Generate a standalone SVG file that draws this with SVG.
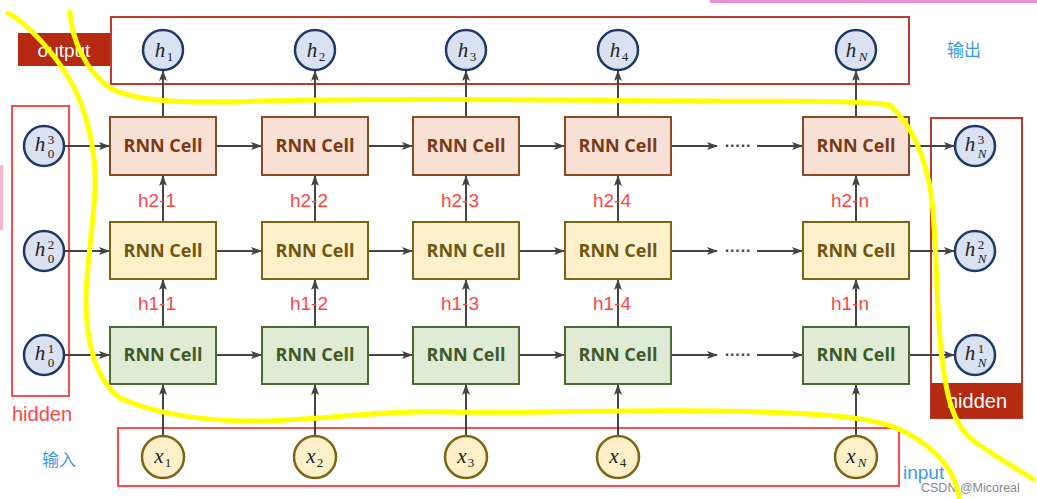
<svg xmlns="http://www.w3.org/2000/svg" width="1037" height="499" viewBox="0 0 1037 499">
<style>
.cellT{font-family:"Open Sans","Liberation Sans",Arial,sans-serif;font-weight:bold;font-size:18px;text-anchor:middle}
.c3{fill:#f8e0d4;stroke:#8a4a22;stroke-width:2}
.c2{fill:#fdf0cb;stroke:#7d6412;stroke-width:2}
.c1{fill:#e0ebd6;stroke:#4d6a33;stroke-width:2}
.t3{fill:#7a3a14}
.t2{fill:#6e5710}
.t1{fill:#3e5a28}
.hc{fill:#d9e1f2;stroke:#1f3864;stroke-width:2.5}
.xc{fill:#fdf0c8;stroke:#7d6412;stroke-width:2.5}
.mt{font-family:"Liberation Serif","DejaVu Serif",serif;font-style:italic;font-size:21px;fill:#222;text-anchor:middle}
.sc{font-family:"Liberation Serif","DejaVu Serif",serif;font-size:13px;fill:#222;text-anchor:middle}
.lbl{font-family:"Liberation Sans",Arial,sans-serif;font-size:19px;fill:#ff4646;text-anchor:middle}
.blue{font-family:"Liberation Sans","Noto Sans CJK SC",sans-serif;font-size:17px;fill:#3a9ae6}
.conn line{stroke:#444;stroke-width:2;marker-end:url(#ah)}
.yl{fill:none;stroke:#ffff00;stroke-width:5;stroke-linecap:round;stroke-linejoin:round}
</style>
<defs>
<marker id="ah" markerWidth="11" markerHeight="10" refX="10" refY="5" orient="auto" markerUnits="userSpaceOnUse">
<path d="M0,1 L11,5 L0,9 L2.5,5 z" fill="#444"/>
</marker>
</defs>
<rect width="1037" height="499" fill="#ffffff"/>
<rect x="710" y="0" width="327" height="3" fill="#e98fd6"/>
<rect x="0" y="165" width="3" height="65" fill="#f7b3d3"/>

<!-- frames -->
<g id="output-frame">
<rect x="111" y="17" width="798" height="67" fill="none" stroke="#c23b2a" stroke-width="2"/>
<rect x="18" y="33" width="92" height="33" fill="#b52a10"/>
<text x="64" y="57" font-family="Liberation Sans,Arial,sans-serif" font-size="19" fill="#fff" text-anchor="middle">output</text>
</g>
<g id="hidden-left">
<rect x="12" y="106" width="57" height="290" fill="none" stroke="#ff4b4b" stroke-width="2"/>
<text x="42" y="421" font-family="Liberation Sans,Arial,sans-serif" font-size="20" fill="#ff4646" text-anchor="middle">hidden</text>
</g>
<g id="hidden-right">
<rect x="931" y="118" width="91" height="300" fill="none" stroke="#c23b2a" stroke-width="2"/>
<rect x="931" y="383" width="91" height="35" fill="#b52a10"/>
<text x="977" y="408" font-family="Liberation Sans,Arial,sans-serif" font-size="20" fill="#fff" text-anchor="middle">hidden</text>
</g>
<g id="input-frame">
<rect x="118" y="428" width="781" height="58" fill="none" stroke="#ff4b4b" stroke-width="2"/>
</g>
<text class="blue" x="947" y="56">输出</text>
<text class="blue" x="42" y="466">输入</text>
<text x="903" y="479" font-family="Liberation Sans,Arial,sans-serif" font-size="19" fill="#3a9ae6">input</text>
<text x="921" y="492" font-family="Liberation Sans,Arial,sans-serif" font-size="12.5" fill="#888">CSDN @Micoreal</text>

<!-- connectors -->
<g id="connectors" class="conn">
<line x1="163" y1="436" x2="163" y2="385"/><line x1="315" y1="436" x2="315" y2="385"/><line x1="466" y1="436" x2="466" y2="385"/><line x1="618" y1="436" x2="618" y2="385"/><line x1="856" y1="436" x2="856" y2="385"/>
<line x1="163" y1="327" x2="163" y2="280"/><line x1="315" y1="327" x2="315" y2="280"/><line x1="466" y1="327" x2="466" y2="280"/><line x1="618" y1="327" x2="618" y2="280"/><line x1="856" y1="327" x2="856" y2="280"/>
<line x1="163" y1="222" x2="163" y2="176"/><line x1="315" y1="222" x2="315" y2="176"/><line x1="466" y1="222" x2="466" y2="176"/><line x1="618" y1="222" x2="618" y2="176"/><line x1="856" y1="222" x2="856" y2="176"/>
<line x1="163" y1="117" x2="163" y2="71"/><line x1="315" y1="117" x2="315" y2="71"/><line x1="466" y1="117" x2="466" y2="71"/><line x1="618" y1="117" x2="618" y2="71"/><line x1="856" y1="117" x2="856" y2="71"/>

<line x1="64" y1="146" x2="109" y2="146"/><line x1="216" y1="146" x2="261" y2="146"/><line x1="368" y1="146" x2="412" y2="146"/><line x1="519" y1="146" x2="564" y2="146"/><line x1="671" y1="146" x2="717" y2="146"/><line x1="757" y1="146" x2="802" y2="146"/><line x1="909" y1="146" x2="954" y2="146"/>
<line x1="64" y1="251" x2="109" y2="251"/><line x1="216" y1="251" x2="261" y2="251"/><line x1="368" y1="251" x2="412" y2="251"/><line x1="519" y1="251" x2="564" y2="251"/><line x1="671" y1="251" x2="717" y2="251"/><line x1="757" y1="251" x2="802" y2="251"/><line x1="909" y1="251" x2="954" y2="251"/>
<line x1="64" y1="355" x2="109" y2="355"/><line x1="216" y1="355" x2="261" y2="355"/><line x1="368" y1="355" x2="412" y2="355"/><line x1="519" y1="355" x2="564" y2="355"/><line x1="671" y1="355" x2="717" y2="355"/><line x1="757" y1="355" x2="802" y2="355"/><line x1="909" y1="355" x2="954" y2="355"/>
</g>
<g id="dots" font-family="Liberation Sans,Arial,sans-serif" font-size="16" font-weight="bold" fill="#444" text-anchor="middle">
<text x="738" y="151">·····</text><text x="738" y="256">·····</text><text x="738" y="360">·····</text>
</g>

<!-- labels -->
<g id="labels" class="lbl">
<text x="157" y="207">h2-1</text><text x="309" y="207">h2-2</text><text x="460" y="207">h2-3</text><text x="612" y="207">h2-4</text><text x="850" y="207">h2-n</text>
<text x="157" y="310">h1-1</text><text x="309" y="310">h1-2</text><text x="460" y="310">h1-3</text><text x="612" y="310">h1-4</text><text x="850" y="310">h1-n</text>
</g>

<!-- cells -->
<g id="cell-3-1"><rect class="c3" x="110" y="117" width="106" height="58"/><text class="cellT t3" x="163" y="152">RNN Cell</text></g>
<g id="cell-3-2"><rect class="c3" x="262" y="117" width="106" height="58"/><text class="cellT t3" x="315" y="152">RNN Cell</text></g>
<g id="cell-3-3"><rect class="c3" x="413" y="117" width="106" height="58"/><text class="cellT t3" x="466" y="152">RNN Cell</text></g>
<g id="cell-3-4"><rect class="c3" x="565" y="117" width="106" height="58"/><text class="cellT t3" x="618" y="152">RNN Cell</text></g>
<g id="cell-3-n"><rect class="c3" x="803" y="117" width="106" height="58"/><text class="cellT t3" x="856" y="152">RNN Cell</text></g>

<g id="cell-2-1"><rect class="c2" x="110" y="222" width="106" height="57"/><text class="cellT t2" x="163" y="257">RNN Cell</text></g>
<g id="cell-2-2"><rect class="c2" x="262" y="222" width="106" height="57"/><text class="cellT t2" x="315" y="257">RNN Cell</text></g>
<g id="cell-2-3"><rect class="c2" x="413" y="222" width="106" height="57"/><text class="cellT t2" x="466" y="257">RNN Cell</text></g>
<g id="cell-2-4"><rect class="c2" x="565" y="222" width="106" height="57"/><text class="cellT t2" x="618" y="257">RNN Cell</text></g>
<g id="cell-2-n"><rect class="c2" x="803" y="222" width="106" height="57"/><text class="cellT t2" x="856" y="257">RNN Cell</text></g>

<g id="cell-1-1"><rect class="c1" x="110" y="327" width="106" height="57"/><text class="cellT t1" x="163" y="361">RNN Cell</text></g>
<g id="cell-1-2"><rect class="c1" x="262" y="327" width="106" height="57"/><text class="cellT t1" x="315" y="361">RNN Cell</text></g>
<g id="cell-1-3"><rect class="c1" x="413" y="327" width="106" height="57"/><text class="cellT t1" x="466" y="361">RNN Cell</text></g>
<g id="cell-1-4"><rect class="c1" x="565" y="327" width="106" height="57"/><text class="cellT t1" x="618" y="361">RNN Cell</text></g>
<g id="cell-1-n"><rect class="c1" x="803" y="327" width="106" height="57"/><text class="cellT t1" x="856" y="361">RNN Cell</text></g>

<!-- output circles -->
<g id="h1"><circle class="hc" cx="163" cy="50" r="20"/><text class="mt" x="160" y="57">h</text><text class="sc" x="170" y="61" font-size="14">1</text></g>
<g id="h2"><circle class="hc" cx="315" cy="50" r="20"/><text class="mt" x="312" y="57">h</text><text class="sc" x="322" y="61" font-size="14">2</text></g>
<g id="h3"><circle class="hc" cx="466" cy="50" r="20"/><text class="mt" x="463" y="57">h</text><text class="sc" x="473" y="61" font-size="14">3</text></g>
<g id="h4"><circle class="hc" cx="618" cy="50" r="20"/><text class="mt" x="615" y="57">h</text><text class="sc" x="625" y="61" font-size="14">4</text></g>
<g id="hN"><circle class="hc" cx="856" cy="50" r="20"/><text class="mt" x="851" y="57">h</text><text class="sc" x="863" y="61" font-size="14" font-style="italic">N</text></g>

<!-- left hidden circles -->
<g id="h0-3"><circle class="hc" cx="44" cy="146" r="20"/><text class="mt" x="40" y="151">h</text><text class="sc" x="51" y="144">3</text><text class="sc" x="51" y="158">0</text></g>
<g id="h0-2"><circle class="hc" cx="44" cy="251" r="20"/><text class="mt" x="40" y="256">h</text><text class="sc" x="51" y="249">2</text><text class="sc" x="51" y="263">0</text></g>
<g id="h0-1"><circle class="hc" cx="44" cy="355" r="20"/><text class="mt" x="40" y="360">h</text><text class="sc" x="51" y="353">1</text><text class="sc" x="51" y="367">0</text></g>

<!-- right hidden circles -->
<g id="hN-3"><circle class="hc" cx="975" cy="146" r="20"/><text class="mt" x="970" y="151">h</text><text class="sc" x="981" y="144">3</text><text class="sc" x="982" y="158" font-style="italic">N</text></g>
<g id="hN-2"><circle class="hc" cx="975" cy="251" r="20"/><text class="mt" x="970" y="256">h</text><text class="sc" x="981" y="249">2</text><text class="sc" x="982" y="263" font-style="italic">N</text></g>
<g id="hN-1"><circle class="hc" cx="975" cy="355" r="20"/><text class="mt" x="970" y="360">h</text><text class="sc" x="981" y="353">1</text><text class="sc" x="982" y="367" font-style="italic">N</text></g>

<!-- input circles -->
<g id="x1"><circle class="xc" cx="163" cy="457" r="21"/><text class="mt" x="159" y="463">x</text><text class="sc" x="168" y="467" font-size="14">1</text></g>
<g id="x2"><circle class="xc" cx="315" cy="457" r="21"/><text class="mt" x="311" y="463">x</text><text class="sc" x="320" y="467" font-size="14">2</text></g>
<g id="x3"><circle class="xc" cx="466" cy="457" r="21"/><text class="mt" x="462" y="463">x</text><text class="sc" x="471" y="467" font-size="14">3</text></g>
<g id="x4"><circle class="xc" cx="618" cy="457" r="21"/><text class="mt" x="614" y="463">x</text><text class="sc" x="623" y="467" font-size="14">4</text></g>
<g id="xN"><circle class="xc" cx="856" cy="457" r="21"/><text class="mt" x="851" y="463">x</text><text class="sc" x="862" y="467" font-size="14" font-style="italic">N</text></g>

<!-- yellow freehand strokes -->
<g id="highlight">
<path class="yl" d="M8,13 C30,25 55,55 70,80 C85,105 97,150 95,190 C93,230 86,270 86,300 C86,340 95,380 120,398 C150,412 200,422 260,421 C320,420 380,410 450,412 C550,414 650,408 760,412 C830,414 880,418 905,432 C935,448 955,468 959,497"/>
<path class="yl" d="M70,12 C72,40 85,70 110,88 C140,104 200,103 260,101 C400,98 600,100 700,101 C800,102 860,100 890,105 C910,125 925,150 932,200 C937,250 936,300 941,350 C946,395 952,425 975,442 C995,456 1015,468 1033,479"/>
</g>
</svg>
